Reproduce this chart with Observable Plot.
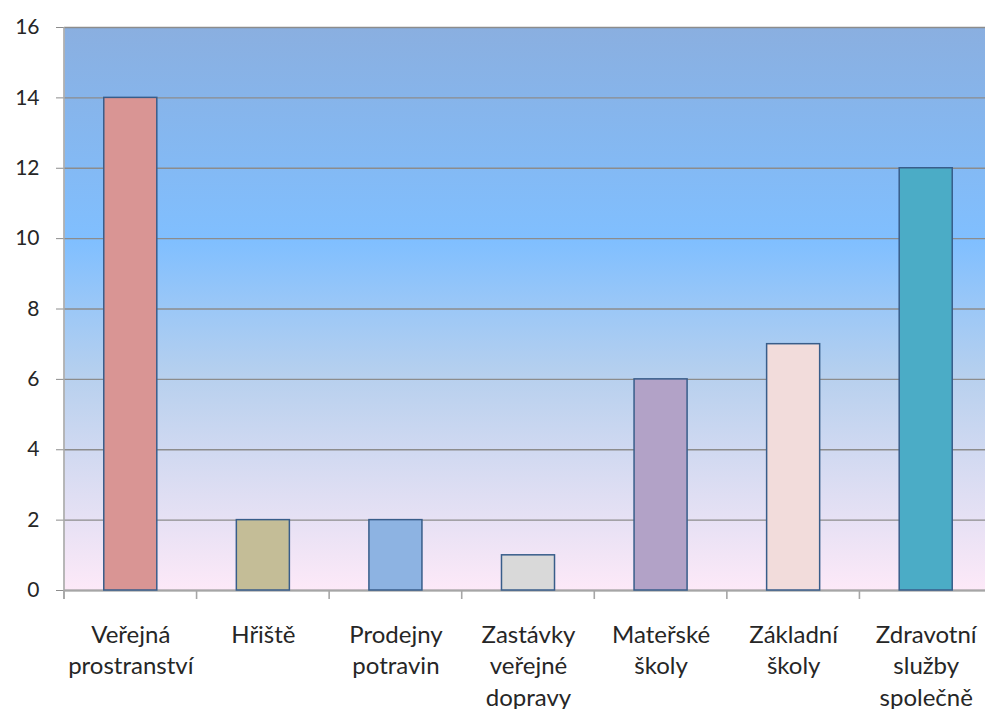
<!DOCTYPE html>
<html>
<head>
<meta charset="utf-8">
<script src="https://cdn.jsdelivr.net/npm/d3@7"></script>
<script src="https://cdn.jsdelivr.net/npm/@observablehq/plot@0.6"></script>
<style>
  html, body { margin: 0; padding: 0; background: #fff; overflow: hidden; }
  #chart svg { display: block; }
</style>
</head>
<body>
<div id="chart"></div>
<script>
const categories = ["Veřejná prostranství", "Hřiště", "Prodejny potravin", "Zastávky veřejné dopravy", "Mateřské školy", "Základní školy", "Zdravotní služby společně"];
const labels = ["Veřejná\nprostranství", "Hřiště", "Prodejny\npotravin", "Zastávky\nveřejné\ndopravy", "Mateřské\nškoly", "Základní\nškoly", "Zdravotní\nslužby\nspolečně"];
const values = [14, 2, 2, 1, 6, 7, 12];
const colors = ["#d99594", "#c4bd97", "#8db3e2", "#d9d9d9", "#b2a2c7", "#f2dcdb", "#4bacc6"];
const yTicks = [0, 2, 4, 6, 8, 10, 12, 14, 16];

const data = categories.map((c, i) => ({name: c, label: labels[i], value: values[i], color: colors[i]}));

const plot = Plot.plot({
  width: 985,
  height: 709,
  marginLeft: 64,
  marginRight: -7,
  marginTop: 27,
  marginBottom: 119,
  style: {fontFamily: "Lato, 'Open Sans', sans-serif", color: "#262626", background: "#fff", overflow: "hidden"},
  x: {domain: categories, paddingInner: 0.6, paddingOuter: 0.3, round: false, axis: null},
  y: {domain: [0, 16], axis: null},
  marks: [
    Plot.frame({fill: "url(#bgGrad)", stroke: null}),
    Plot.gridY(yTicks, {stroke: "#8c8c8c", strokeOpacity: 1, strokeWidth: 1.3}),
    Plot.ruleY([0], {stroke: "#a6a6a6", strokeWidth: 2}),
    Plot.axisY(yTicks, {tickSize: 8, tickPadding: 17, fontSize: 21, stroke: "#8c8c8c", fill: "#262626", label: null}),
    Plot.barY(data, {x: "name", y: "value", fill: "color", stroke: "#385d8a", strokeWidth: 1.5}),
    Plot.text(data, {x: "name", y: 0, text: "label", dy: 30, lineAnchor: "top", fontSize: 24, lineHeight: 1.31, fill: "#262626"})
  ]
});

// gradient definition for the plot area background
const svg = d3.select(plot);
const defs = svg.insert("defs", ":first-child");
const grad = defs.append("linearGradient").attr("id", "bgGrad").attr("x1", 0).attr("y1", 0).attr("x2", 0).attr("y2", 1);
[[0, "#8aafe0"], [0.38, "#80bfff"], [0.62, "#b7d0ee"], [0.8, "#d9dcf2"], [1, "#fde9f8"]].forEach(([o, c]) =>
  grad.append("stop").attr("offset", o).attr("stop-color", c));

// axis lines and category boundary ticks, positioned with Plot's scales
const xs = plot.scale("x");
const ys = plot.scale("y");
const y0 = ys.apply(0), yTop = ys.apply(16);
const gap = (xs.step - xs.bandwidth) / 2;
const g = svg.append("g").attr("stroke", "#a6a6a6").attr("stroke-width", 1.6);
g.append("line").attr("x1", xs.range[0]).attr("x2", xs.range[0]).attr("y1", yTop).attr("y2", y0 + 9);
categories.forEach(c => {
  const bx = xs.apply(c) - gap;
  g.append("line").attr("x1", bx).attr("x2", bx).attr("y1", y0).attr("y2", y0 + 9);
});
const last = xs.apply(categories[categories.length - 1]) + xs.bandwidth + gap;
g.append("line").attr("x1", last).attr("x2", last).attr("y1", y0).attr("y2", y0 + 9);

document.getElementById("chart").appendChild(plot);
</script>
</body>
</html>
